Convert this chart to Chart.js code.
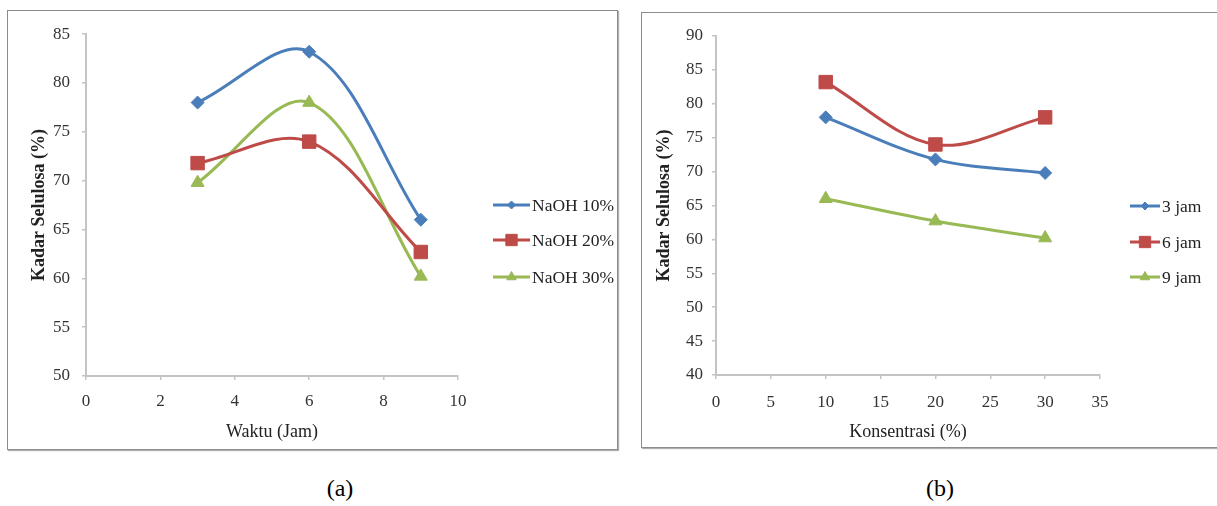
<!DOCTYPE html>
<html><head><meta charset="utf-8">
<script src="https://cdn.jsdelivr.net/npm/chart.js@4.4.1/dist/chart.umd.min.js"></script>
<style>
html,body{margin:0;padding:0;background:#fff;}
#page{position:relative;width:1217px;height:506px;overflow:hidden;background:#fff;font-family:"Liberation Serif","Times New Roman",serif;}
.frame{position:absolute;border:1px solid #8c8c8c;box-shadow:1px 1px 1px #b0b0b0;background:#fff;}
canvas{position:absolute;}
.cap{position:absolute;font-size:24px;color:#000;transform:translateX(-50%);}
</style></head><body>
<div id="page">
 <div class="frame" style="left:7px;top:10px;width:609px;height:438px;"></div>
 <div class="frame" style="left:641px;top:12px;width:590px;height:434px;"></div>
 <canvas id="ca" width="606" height="436" style="left:9px;top:12px;"></canvas>
 <canvas id="cb" width="574" height="432" style="left:643px;top:14px;"></canvas>
 <div class="cap" style="left:340px;top:475px;">(a)</div>
 <div class="cap" style="left:940px;top:475px;">(b)</div>
</div>
<script>
// ---- data (a) ----
const waktu = [3, 6, 9];
const naoh10 = [78.0, 83.2, 66.0];
const naoh20 = [71.8, 74.0, 62.7];
const naoh30 = [69.8, 78.0, 60.2];
const labelsA = ['NaOH 10%', 'NaOH 20%', 'NaOH 30%'];
// ---- data (b) ----
const konsentrasi = [10, 20, 30];
const jam3 = [78.0, 71.8, 69.8];
const jam6 = [83.2, 74.0, 78.0];
const jam9 = [66.0, 62.7, 60.2];
const labelsB = ['3 jam', '6 jam', '9 jam'];
// ---- axes ----
const xTicksA = [0, 2, 4, 6, 8, 10];
const yTicksA = [50, 55, 60, 65, 70, 75, 80, 85];
const xTicksB = [0, 5, 10, 15, 20, 25, 30, 35];
const yTicksB = [40, 45, 50, 55, 60, 65, 70, 75, 80, 85, 90];

const BLUE = '#4a7ebb', RED = '#be4b48', GREEN = '#98b954';
const styles = [
  {color: BLUE, pointStyle: 'rectRot', radius: 6.5, legendRadius: 4},
  {color: RED, pointStyle: 'rect', radius: 9.5, legendRadius: 8},
  {color: GREEN, pointStyle: 'triangle', radius: 7.5, legendRadius: 5.5}
];

Chart.defaults.font.family = '"Liberation Serif", "Times New Roman", serif';
Chart.defaults.color = '#333';

function pts(xs, ys) { return xs.map((x, i) => ({x: x, y: ys[i]})); }
function makeDatasets(xs, series, labels) {
  return series.map((s, i) => ({
    label: labels[i],
    data: pts(xs, s),
    borderColor: styles[i].color,
    backgroundColor: styles[i].color,
    pointBackgroundColor: styles[i].color,
    pointBorderColor: styles[i].color,
    pointBorderWidth: 1,
    pointStyle: styles[i].pointStyle,
    pointRadius: styles[i].radius,
    borderWidth: 3,
    tension: 0.35,
    fill: false,
    clip: false,
    legendRadius: styles[i].legendRadius
  }));
}

function drawMarker(ctx, style, r, x, y) {
  ctx.beginPath();
  if (style === 'rectRot') {
    ctx.moveTo(x, y - r); ctx.lineTo(x + r, y); ctx.lineTo(x, y + r); ctx.lineTo(x - r, y); ctx.closePath();
  } else if (style === 'rect') {
    const h = r * Math.SQRT1_2; ctx.rect(x - h, y - h, 2 * h, 2 * h);
  } else {
    const s = r * Math.sqrt(3) / 2;
    ctx.moveTo(x, y - r); ctx.lineTo(x + s, y + r / 2); ctx.lineTo(x - s, y + r / 2); ctx.closePath();
  }
  ctx.fill(); ctx.stroke();
}

const lineLegend = {
  id: 'lineLegend',
  afterDraw(chart, args, opts) {
    const ctx = chart.ctx;
    ctx.save();
    chart.data.datasets.forEach((ds, i) => {
      const y = opts.ys[i];
      ctx.strokeStyle = ds.borderColor; ctx.fillStyle = ds.borderColor;
      ctx.lineWidth = 3;
      ctx.beginPath(); ctx.moveTo(opts.x0, y); ctx.lineTo(opts.x1, y); ctx.stroke();
      ctx.lineWidth = 1;
      drawMarker(ctx, ds.pointStyle, ds.legendRadius, (opts.x0 + opts.x1) / 2, y);
      ctx.fillStyle = '#222';
      ctx.font = '17.5px "Liberation Serif", serif';
      ctx.textBaseline = 'middle'; ctx.textAlign = 'left';
      ctx.fillText(ds.label, opts.tx, y + 1);
    });
    ctx.restore();
  }
};

function makeChart(id, cfg) {
  const tickFont = {size: 17};
  return new Chart(document.getElementById(id), {
    type: 'line',
    data: {datasets: cfg.datasets},
    plugins: [lineLegend],
    options: {
      responsive: false, animation: false, devicePixelRatio: 1,
      layout: {padding: {left: 0, right: cfg.padRight, top: cfg.padTop, bottom: 0}},
      plugins: {
        legend: {display: false}, tooltip: {enabled: false},
        lineLegend: cfg.legend
      },
      scales: {
        x: {
          type: 'linear', min: cfg.xTicks[0], max: cfg.xTicks[cfg.xTicks.length - 1],
          afterBuildTicks: s => { s.ticks = cfg.xTicks.map(v => ({value: v})); },
          afterFit: s => { s.height = cfg.xHeight; },
          ticks: {font: tickFont, padding: cfg.xTickPad, color: '#333', maxRotation: 0},
          grid: {display: true, drawOnChartArea: false, drawTicks: true, tickLength: 4, color: '#c4c4c4', lineWidth: 1.5},
          border: {display: true, color: '#c4c4c4', width: 2},
          title: {display: true, text: cfg.xTitle, font: {size: 18}, color: '#222', padding: {top: 0, bottom: cfg.xTitlePad}}
        },
        y: {
          type: 'linear', min: cfg.yTicks[0], max: cfg.yTicks[cfg.yTicks.length - 1],
          afterBuildTicks: s => { s.ticks = cfg.yTicks.map(v => ({value: v})); },
          afterFit: s => { s.width = cfg.yWidth; },
          ticks: {font: tickFont, padding: cfg.yTickPad, color: '#333'},
          grid: {display: true, drawOnChartArea: false, drawTicks: true, tickLength: 4, color: '#c4c4c4', lineWidth: 1.5},
          border: {display: true, color: '#c4c4c4', width: 2},
          title: {display: true, text: 'Kadar Selulosa (%)', font: {size: 18, weight: 'bold'}, color: '#222', padding: {top: cfg.yTitlePad, bottom: 0}}
        }
      }
    }
  });
}

makeChart('ca', {
  datasets: makeDatasets(waktu, [naoh10, naoh20, naoh30], labelsA),
  xTicks: xTicksA, yTicks: yTicksA,
  padRight: 157, padTop: 22, xHeight: 72, yWidth: 77,
  xTickPad: 11, yTickPad: 12, xTitlePad: 5, yTitlePad: 20,
  xTitle: 'Waktu (Jam)',
  legend: {x0: 484, x1: 521, tx: 523, ys: [193, 228, 265]}
});

makeChart('cb', {
  datasets: makeDatasets(konsentrasi, [jam3, jam6, jam9], labelsB),
  xTicks: xTicksB, yTicks: yTicksB,
  padRight: 117, padTop: 22, xHeight: 71, yWidth: 73,
  xTickPad: 13, yTickPad: 9, xTitlePad: 3, yTitlePad: 11,
  xTitle: 'Konsentrasi (%)',
  legend: {x0: 487, x1: 517, tx: 519, ys: [192, 228, 263]}
});
</script>
</body></html>
